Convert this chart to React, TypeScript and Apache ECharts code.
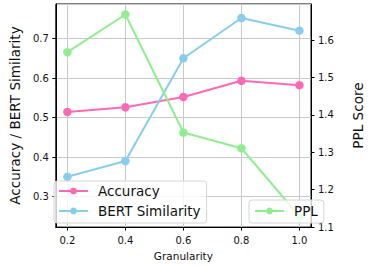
import React, { useEffect, useRef } from "react";
import * as echarts from "echarts";

const granularity = [0.2, 0.4, 0.6, 0.8, 1.0];
const accuracy = [0.514, 0.526, 0.552, 0.593, 0.582];
const bertSimilarity = [0.35, 0.39, 0.65, 0.752, 0.72];
const ppl = [1.568, 1.669, 1.353, 1.311, 1.129];

const FONT = "DejaVu Sans";

export default function App() {
  const ref = useRef<HTMLDivElement>(null);
  useEffect(() => {
    const chart = echarts.init(ref.current!, null, { renderer: "svg" });
    const pair = (ys: number[]) => granularity.map((x, i) => [x, ys[i]]);
    const lineSeries = (name: string, color: string, data: number[][], yAxisIndex: number) => ({
      name,
      type: "line",
      yAxisIndex,
      data,
      symbol: "circle",
      symbolSize: 8.5,
      lineStyle: { color, width: 2 },
      itemStyle: { color },
      z: 3,
    });
    const legendBase = {
      orient: "vertical",
      itemWidth: 29,
      itemHeight: 8.5,
      backgroundColor: "rgba(255,255,255,0.8)",
      borderColor: "#d6d6d6",
      borderWidth: 1,
      borderRadius: 3,
      textStyle: { fontSize: 13.5, color: "#111", fontFamily: FONT, padding: [0, 0, 0, 5] },
    };
    chart.setOption({
      animation: false,
      textStyle: { fontFamily: FONT },
      grid: { left: 47, right: 42, top: 4, bottom: 35, show: true, borderColor: "#000", borderWidth: 1 },
      xAxis: {
        type: "value",
        min: 0.16,
        max: 1.04,
        splitNumber: 4,
        name: "Granularity",
        nameLocation: "middle",
        nameGap: 22,
        nameTextStyle: { fontSize: 10.5, color: "#111", fontFamily: FONT },
        axisLine: { show: true, lineStyle: { color: "#000" } },
        axisTick: { show: true, length: 3.5, lineStyle: { color: "#000" } },
        axisLabel: { showMinLabel: false, showMaxLabel: false, fontSize: 10, color: "#111", margin: 8, formatter: (v: number) => v.toFixed(1) },
        splitLine: { show: true, lineStyle: { color: "#c8c8c8", width: 1 } },
      },
      yAxis: [
        {
          type: "value",
          min: 0.2225,
          max: 0.7875,
          splitNumber: 5,
          name: "Accuracy / BERT Similarity",
          nameLocation: "middle",
          nameRotate: 90,
          nameGap: 30,
          nameTextStyle: { fontSize: 13.6, color: "#111", fontFamily: FONT },
          axisLine: { show: true, lineStyle: { color: "#000" } },
          axisTick: { show: true, length: 3.5, lineStyle: { color: "#000" } },
          axisLabel: { showMinLabel: false, showMaxLabel: false, fontSize: 10, color: "#111", margin: 7, formatter: (v: number) => v.toFixed(1) },
          splitLine: { show: true, lineStyle: { color: "#c8c8c8", width: 1 } },
        },
        {
          type: "value",
          min: 1.1,
          max: 1.697,
          splitNumber: 5,
          position: "right",
          name: "PPL Score",
          nameLocation: "middle",
          nameRotate: 90,
          nameGap: 40,
          nameTextStyle: { fontSize: 13.6, color: "#111", fontFamily: FONT },
          axisLine: { show: true, lineStyle: { color: "#000" } },
          axisTick: { show: true, length: 3.5, lineStyle: { color: "#000" } },
          axisLabel: { showMaxLabel: false, fontSize: 10, color: "#111", margin: 7, formatter: (v: number) => v.toFixed(1) },
          splitLine: { show: false },
        },
      ],
      legend: [
        {
          ...legendBase,
          data: ["Accuracy", "BERT Similarity"],
          left: 54,
          top: 181,
          itemGap: 6,
          padding: [3, 6, 5, 4],
        },
        {
          ...legendBase,
          data: ["PPL"],
          left: 249,
          top: 200,
          padding: [4, 6, 5, 5],
        },
      ],
      series: [
        lineSeries("Accuracy", "#ff69b4", pair(accuracy), 0),
        lineSeries("BERT Similarity", "#87ceeb", pair(bertSimilarity), 0),
        lineSeries("PPL", "#90ee90", pair(ppl), 1),
      ],
    });
    return () => chart.dispose();
  }, []);
  return <div ref={ref} style={{ width: 373, height: 266, position: "absolute", left: 0, top: 0 }} />;
}
